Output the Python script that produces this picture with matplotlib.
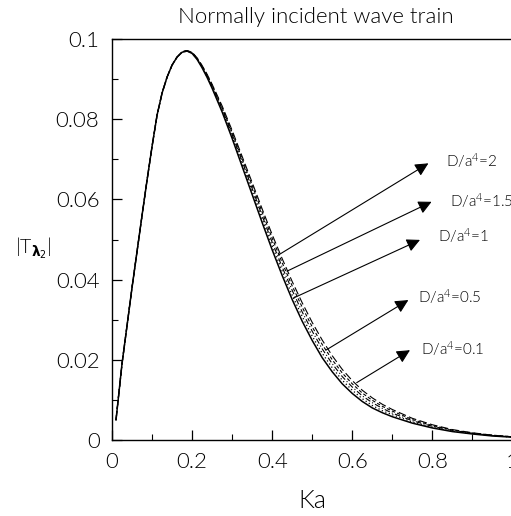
import matplotlib
matplotlib.use("Agg")
import matplotlib.pyplot as plt
from matplotlib.ticker import MultipleLocator, FuncFormatter

plt.rcParams['font.family'] = ['Lato', 'DejaVu Sans']
plt.rcParams['font.weight'] = 300
plt.rcParams['mathtext.fontset'] = 'custom'
plt.rcParams['mathtext.rm'] = 'Lato'
plt.rcParams['mathtext.it'] = 'Lato:italic'
plt.rcParams['mathtext.bf'] = 'Lato:bold'
plt.rcParams['mathtext.fallback'] = 'stixsans'

ka = [0.01, 0.025, 0.05, 0.075, 0.0875, 0.1, 0.1125, 0.125, 0.1375, 0.15, 0.1625,
      0.175, 0.1875, 0.2, 0.2125, 0.225, 0.2375, 0.25, 0.275,
      0.3, 0.325, 0.35, 0.375, 0.4, 0.425, 0.45, 0.475, 0.5, 0.525, 0.55, 0.575,
      0.6, 0.625, 0.65, 0.675, 0.7, 0.75, 0.8, 0.85, 0.9, 0.95, 1.0]

t_d01 = [0.005, 0.019, 0.038, 0.0560, 0.0648, 0.0732, 0.0810, 0.0865, 0.0905, 0.0935,
         0.0955, 0.0967, 0.0970, 0.0964, 0.0949, 0.0928, 0.0904, 0.0877, 0.0818,
         0.0752, 0.0682, 0.0612, 0.0542, 0.0474, 0.0410, 0.0350, 0.0296, 0.0248,
         0.0205, 0.0170, 0.0140, 0.0116, 0.0096, 0.0080, 0.0068, 0.0058, 0.0042,
         0.0030, 0.0021, 0.0015, 0.0010, 0.0007]
t_d05 = [0.005, 0.019, 0.038, 0.0560, 0.0648, 0.0732, 0.0810, 0.0865, 0.0905, 0.0935,
         0.0955, 0.0967, 0.0970, 0.0965, 0.0950, 0.0930, 0.0906, 0.0880, 0.0822,
         0.0757, 0.0688, 0.0620, 0.0551, 0.0484, 0.0421, 0.0361, 0.0308, 0.0259,
         0.0216, 0.0180, 0.0149, 0.0124, 0.0103, 0.0086, 0.0073, 0.0063, 0.0045,
         0.0032, 0.0022, 0.0016, 0.0011, 0.0007]
t_d1 = [0.005, 0.019, 0.038, 0.0560, 0.0648, 0.0732, 0.0810, 0.0865, 0.0905, 0.0935,
        0.0955, 0.0968, 0.0971, 0.0966, 0.0951, 0.0931, 0.0908, 0.0882, 0.0826,
        0.0762, 0.0695, 0.0627, 0.0559, 0.0493, 0.0431, 0.0373, 0.0319, 0.0271,
        0.0227, 0.0190, 0.0158, 0.0132, 0.0110, 0.0093, 0.0079, 0.0067, 0.0048,
        0.0034, 0.0024, 0.0017, 0.0011, 0.0008]
t_d15 = [0.005, 0.019, 0.038, 0.0560, 0.0648, 0.0732, 0.0810, 0.0865, 0.0905, 0.0935,
         0.0955, 0.0968, 0.0971, 0.0966, 0.0952, 0.0933, 0.0910, 0.0885, 0.0829,
         0.0767, 0.0701, 0.0635, 0.0568, 0.0503, 0.0442, 0.0384, 0.0331, 0.0282,
         0.0238, 0.0200, 0.0167, 0.0140, 0.0117, 0.0099, 0.0084, 0.0072, 0.0051,
         0.0036, 0.0025, 0.0017, 0.0012, 0.0008]
t_d2 = [0.005, 0.019, 0.038, 0.0560, 0.0648, 0.0732, 0.0810, 0.0865, 0.0905, 0.0935,
        0.0955, 0.0968, 0.0971, 0.0967, 0.0953, 0.0934, 0.0912, 0.0887, 0.0833,
        0.0772, 0.0707, 0.0642, 0.0576, 0.0512, 0.0452, 0.0395, 0.0342, 0.0293,
        0.0249, 0.0210, 0.0176, 0.0148, 0.0124, 0.0105, 0.0089, 0.0076, 0.0054,
        0.0038, 0.0026, 0.0018, 0.0012, 0.0008]

labels = ['D/a$^4$=2', 'D/a$^4$=1.5', 'D/a$^4$=1', 'D/a$^4$=0.5', 'D/a$^4$=0.1']
arrow_tail = [(0.415, 0.0461), (0.437, 0.0421), (0.453, 0.0354), (0.534, 0.0224), (0.611, 0.0143)]
arrow_head = [(0.790, 0.0690), (0.798, 0.0594), (0.769, 0.0499), (0.740, 0.0349), (0.744, 0.0224)]
text_pos = [(0.834, 0.0698), (0.844, 0.0596), (0.814, 0.0511), (0.764, 0.0357), (0.772, 0.0229)]

fig = plt.figure(figsize=(5.11, 5.16), dpi=100)
ax = fig.add_axes([112 / 511, 76 / 516, 400.5 / 511, 401 / 516])

ax.plot(ka, t_d01, color='k', lw=1.1, ls='-')
ax.plot(ka, t_d05, color='k', lw=0.9, ls=(0, (1, 2)))
ax.plot(ka, t_d1, color='k', lw=0.8, ls=(0, (5, 2, 1, 2)))
ax.plot(ka, t_d15, color='k', lw=0.8, ls=(0, (3, 2)))
ax.plot(ka, t_d2, color='k', lw=0.8, ls=(0, (7, 3)))

for lab, tail, head, tp in zip(labels, arrow_tail, arrow_head, text_pos):
    ax.annotate('', xy=head, xytext=tail,
                arrowprops=dict(arrowstyle='-|>', color='k', lw=0.8,
                                mutation_scale=20, shrinkA=0, shrinkB=0))
    ax.text(tp[0], tp[1], lab, fontsize=11, va='center', ha='left', clip_on=False)

ax.set_xlim(0, 1)
ax.set_ylim(0, 0.1)
ax.xaxis.set_major_locator(MultipleLocator(0.2))
ax.xaxis.set_minor_locator(MultipleLocator(0.1))
ax.yaxis.set_major_locator(MultipleLocator(0.02))
ax.yaxis.set_minor_locator(MultipleLocator(0.01))
fmt = FuncFormatter(lambda v, p: '%g' % round(v, 4))
ax.xaxis.set_major_formatter(fmt)
ax.yaxis.set_major_formatter(fmt)
ax.tick_params(which='both', direction='in', labelsize=16, top=False, right=False)
ax.tick_params(which='major', length=7, width=0.9, pad=9)
ax.tick_params(which='minor', length=4, width=0.8)
for s in ax.spines.values():
    s.set_linewidth(1.0)

fig.text(316 / 511, 1 - 17 / 516, 'Normally incident wave train', fontsize=16,
         ha='center', va='center')
fig.text(312 / 511, 1 - 501 / 516, 'Ka', fontsize=18, ha='center', va='center')
fig.text(33 / 511, 1 - 248 / 516, r'|T$_{\mathbf{\lambda}_2}$|', fontsize=14,
         ha='center', va='center', math_fontfamily='dejavusans')

fig.savefig('out.png', dpi=100)
